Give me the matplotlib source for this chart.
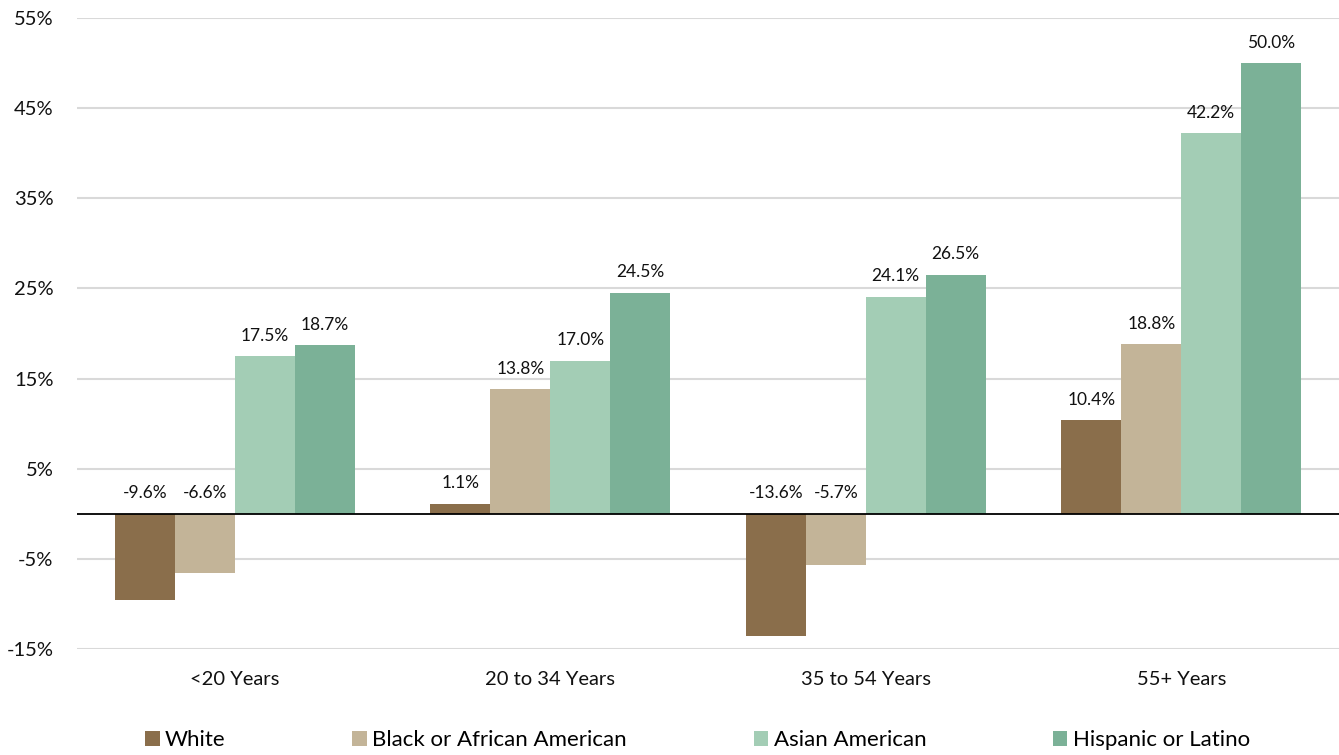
import matplotlib
matplotlib.use("Agg")
import matplotlib.pyplot as plt
import numpy as np

categories = ["<20 Years", "20 to 34 Years", "35 to 54 Years", "55+ Years"]
series_names = ["White", "Black or African American", "Asian American", "Hispanic or Latino"]
white = [-9.6, 1.1, -13.6, 10.4]
black = [-6.6, 13.8, -5.7, 18.8]
asian = [17.5, 17.0, 24.1, 42.2]
hispanic = [18.7, 24.5, 26.5, 50.0]
colors = ["#8A6E4B", "#C3B498", "#A3CDB5", "#7BB197"]
yticks = [-15, -5, 5, 15, 25, 35, 45, 55]

plt.rcParams['font.family'] = ['Lato', 'DejaVu Sans']

fig = plt.figure(figsize=(13.39, 7.55), dpi=100)
ax = fig.add_axes([77/1339, 106/755, 1262/1339, 631/755])

x = np.arange(len(categories))
w = 0.19
all_series = [white, black, asian, hispanic]
handles = []
for i, (vals, c, name) in enumerate(zip(all_series, colors, series_names)):
    pos = x + (i - 1.5) * w
    b = ax.bar(pos, vals, width=w, color=c, label=name, zorder=3)
    handles.append(b)
    for p, v in zip(pos, vals):
        base = max(v, 0)
        ax.annotate(f"{v:.1f}%", (p, base), xytext=(0, 9), textcoords="offset points",
                    ha="center", va="bottom", fontsize=12.5, color="#111111")

ax.set_xlim(-0.5, 3.5)
ax.set_ylim(-15, 55)
ax.set_yticks(yticks)
ax.set_yticklabels([f"{t}%" for t in yticks], fontsize=14.5, color="#111111")
ax.set_xticks(x)
ax.set_xticklabels(categories, fontsize=14.5, color="#111111")
ax.tick_params(axis='both', length=0)
ax.tick_params(axis='y', pad=17)
ax.tick_params(axis='x', pad=16)
ax.yaxis.grid(True, color="#D9D9D9", linewidth=1.5, zorder=0)
ax.axhline(0, color="black", linewidth=1.3, zorder=4)
for s in ax.spines.values():
    s.set_visible(False)

fig.legend(handles=handles, labels=series_names, loc="center", bbox_to_anchor=(0.521, 15/755),
           ncol=4, frameon=False, fontsize=16, handlelength=0.65, handleheight=0.65,
           handletextpad=0.25, columnspacing=5.7)

fig.savefig("out.png", dpi=100)
